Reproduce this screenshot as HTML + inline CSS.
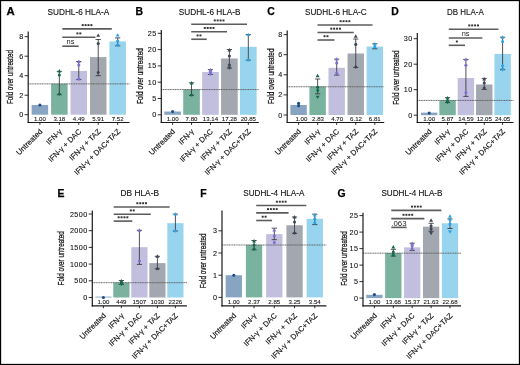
<!DOCTYPE html>
<html><head><meta charset="utf-8"><style>
html,body{margin:0;padding:0;background:#fff;width:520px;height:365px;overflow:hidden;}
</style></head><body>
<svg width="520" height="365" viewBox="0 0 520 365" style="display:block;will-change:transform"><style>
text{font-family:"Liberation Sans",sans-serif;fill:#111}
.lt{font-weight:bold;font-size:10.4px;fill:#000;stroke:#000;stroke-width:.25px}
.ti{font-size:8.2px;stroke:#111;stroke-width:.12px}
.tk{font-size:7.2px;text-anchor:end;stroke:#111;stroke-width:.1px;letter-spacing:.45px}
.vl{font-size:6.1px;text-anchor:middle;stroke:#111;stroke-width:.08px}
.xl{font-size:7.6px;text-anchor:end;stroke:#111;stroke-width:.15px}
.yl{font-size:8.4px;text-anchor:middle;stroke:#111;stroke-width:.25px}
.sg{font-size:7.6px;text-anchor:middle;fill:#222;stroke:#222;stroke-width:.35px}
.ns{font-size:7.4px;text-anchor:middle;fill:#222}
.p6{font-size:7.8px;fill:#222}
.g{fill:#444;stroke:none}
.ax{stroke:#1a1a1a;stroke-width:1.2px}
.tm{stroke:#1a1a1a;stroke-width:.9px}
.br{stroke:#5c5c5c;stroke-width:1.6px}
.eb{stroke:#3c3c44;stroke-width:.9px}
.dl{stroke:#5a5a5a;stroke-width:.9px;stroke-dasharray:1.2,.5}
</style><rect x="0" y="0" width="520" height="365" fill="#fff"/><g><text class="lt" x="6.6" y="14.7" textLength="8.2" lengthAdjust="spacingAndGlyphs">A</text><text class="ti" x="47.5" y="15.0" textLength="61.8" lengthAdjust="spacingAndGlyphs">SUDHL-6 HLA-A</text><rect x="31.65" y="104.95" width="16.5" height="9.75" fill="#87a5c2"/><rect x="51.09" y="83.69" width="16.5" height="31.01" fill="#7ab2a0"/><rect x="70.53" y="70.92" width="16.5" height="43.78" fill="#c1bede"/><rect x="89.97" y="57.08" width="16.5" height="57.62" fill="#a3a8b0"/><rect x="109.41" y="41.38" width="16.5" height="73.32" fill="#98d4ee"/><line class="dl" x1="28.2" y1="83.89" x2="129.5" y2="83.89"/><path class="eb" fill="none" d="M59.34 71.4V94.7M56.74 71.4H61.94M56.74 94.7H61.94"/><path class="eb" fill="none" d="M78.78 61.5V79.6M76.18 61.5H81.38M76.18 79.6H81.38"/><path class="eb" fill="none" d="M98.22 39.5V75.7M95.62 39.5H100.82M95.62 75.7H100.82"/><path class="eb" fill="none" d="M117.66 37.9V45.8M115.06 37.9H120.26M115.06 45.8H120.26"/><circle cx="39.9" cy="105" r="1.55" fill="#1c4b88"/><path d="M59.34 69.06L61.28 72.45L57.4 72.45Z" fill="#14694b"/><circle cx="59.34" cy="75" r="1.55" fill="#14694b"/><path d="M59.34 91.98L61.15 94L59.34 96.02L57.53 94Z" fill="#14694b"/><path d="M78.78 59.56L80.72 62.95L76.84 62.95Z" fill="#7b6fd0"/><circle cx="78.78" cy="65" r="1.55" fill="#7b6fd0"/><path d="M78.78 76.98L80.59 79L78.78 81.02L76.97 79Z" fill="#7b6fd0"/><path d="M98.22 33.46L100.16 36.85L96.28 36.85Z" fill="#3d4654"/><circle cx="98.22" cy="43.6" r="1.55" fill="#3d4654"/><path d="M98.22 70.39L100.03 72.4L98.22 74.42L96.41 72.4Z" fill="#3d4654"/><path d="M117.66 33.16L119.6 36.55L115.72 36.55Z" fill="#29a3e6"/><circle cx="117.66" cy="41" r="1.55" fill="#29a3e6"/><path d="M117.66 42.98L119.47 45L117.66 47.02L115.85 45Z" fill="#29a3e6"/><line class="ax" x1="28.2" y1="31.6" x2="28.2" y2="123.1"/><line class="tm" x1="24.6" y1="114.7" x2="28.2" y2="114.7"/><text class="tk" x="23.6" y="117.2">0</text><line class="tm" x1="24.6" y1="95.2" x2="28.2" y2="95.2"/><text class="tk" x="23.6" y="97.7">2</text><line class="tm" x1="24.6" y1="75.7" x2="28.2" y2="75.7"/><text class="tk" x="23.6" y="78.2">4</text><line class="tm" x1="24.6" y1="56.2" x2="28.2" y2="56.2"/><text class="tk" x="23.6" y="58.7">6</text><line class="tm" x1="24.6" y1="36.7" x2="28.2" y2="36.7"/><text class="tk" x="23.6" y="39.2">8</text><line class="ax" x1="27.6" y1="122.5" x2="129.5" y2="122.5"/><line class="tm" x1="39.9" y1="122.5" x2="39.9" y2="124.9"/><text class="vl" x="39.9" y="120.5">1.00</text><text class="xl" transform="translate(42.9,132) rotate(-45)">Untreated</text><line class="tm" x1="59.34" y1="122.5" x2="59.34" y2="124.9"/><text class="vl" x="59.34" y="120.5">3.18</text><text class="xl" transform="translate(62.34,132) rotate(-45)">IFN-<tspan fill="#333">γ</tspan></text><line class="tm" x1="78.78" y1="122.5" x2="78.78" y2="124.9"/><text class="vl" x="78.78" y="120.5">4.49</text><text class="xl" transform="translate(81.78,132) rotate(-45)">IFN-<tspan fill="#333">γ</tspan> + DAC</text><line class="tm" x1="98.22" y1="122.5" x2="98.22" y2="124.9"/><text class="vl" x="98.22" y="120.5">5.91</text><text class="xl" transform="translate(101.22,132) rotate(-45)">IFN-<tspan fill="#333">γ</tspan> + TAZ</text><line class="tm" x1="117.66" y1="122.5" x2="117.66" y2="124.9"/><text class="vl" x="117.66" y="120.5">7.52</text><text class="xl" transform="translate(120.66,132) rotate(-45)">IFN-<tspan fill="#333">γ</tspan> + DAC+TAZ</text><text class="yl" transform="translate(13.2,77) rotate(-90)" textLength="53.9" lengthAdjust="spacingAndGlyphs">Fold over untreated</text><line class="br" x1="62.3" y1="28.9" x2="111.8" y2="28.9"/><rect x="81.7" y="24.15" width="2" height="1.9" fill="#333"/><rect x="84.6" y="24.15" width="2" height="1.9" fill="#333"/><rect x="87.5" y="24.15" width="2" height="1.9" fill="#333"/><rect x="90.4" y="24.15" width="2" height="1.9" fill="#333"/><line class="br" x1="62.3" y1="37.2" x2="95.4" y2="37.2"/><rect x="76.4" y="32.45" width="2" height="1.9" fill="#333"/><rect x="79.3" y="32.45" width="2" height="1.9" fill="#333"/><line class="br" x1="62.3" y1="46.2" x2="78.6" y2="46.2"/><text class="ns" x="70.45" y="43.9">ns</text></g><g><text class="lt" x="135.5" y="14.7">B</text><text class="ti" x="178.8" y="15.0" textLength="61.7" lengthAdjust="spacingAndGlyphs">SUDHL-6 HLA-B</text><rect x="164.3" y="111.54" width="16.6" height="3.26" fill="#87a5c2"/><rect x="183.23" y="89.37" width="16.6" height="25.43" fill="#7ab2a0"/><rect x="202.16" y="71.96" width="16.6" height="42.84" fill="#c1bede"/><rect x="221.09" y="58.47" width="16.6" height="56.33" fill="#a3a8b0"/><rect x="240.02" y="46.83" width="16.6" height="67.97" fill="#98d4ee"/><line class="dl" x1="161.3" y1="89.57" x2="258.8" y2="89.57"/><path class="eb" fill="none" d="M191.53 82.8V95.3M188.93 82.8H194.13M188.93 95.3H194.13"/><path class="eb" fill="none" d="M210.46 69.6V74.5M207.86 69.6H213.06M207.86 74.5H213.06"/><path class="eb" fill="none" d="M229.39 49.5V68.1M226.79 49.5H231.99M226.79 68.1H231.99"/><path class="eb" fill="none" d="M248.32 34.6V60.2M245.72 34.6H250.92M245.72 60.2H250.92"/><circle cx="172.6" cy="111.5" r="1.55" fill="#1c4b88"/><path d="M191.53 81.06L193.47 84.45L189.59 84.45Z" fill="#14694b"/><circle cx="191.53" cy="95" r="1.55" fill="#14694b"/><path d="M210.46 68.06L212.4 71.45L208.52 71.45Z" fill="#7b6fd0"/><circle cx="210.46" cy="72" r="1.55" fill="#7b6fd0"/><path d="M210.46 71.98L212.27 74L210.46 76.02L208.65 74Z" fill="#7b6fd0"/><path d="M229.39 48.06L231.33 51.45L227.45 51.45Z" fill="#3d4654"/><circle cx="229.39" cy="56" r="1.55" fill="#3d4654"/><path d="M229.39 62.98L231.2 65L229.39 67.02L227.58 65Z" fill="#3d4654"/><path d="M229.39 69.94L231.33 66.55L227.45 66.55Z" fill="#3d4654"/><path d="M248.32 32.66L250.26 36.05L246.38 36.05Z" fill="#29a3e6"/><circle cx="248.32" cy="60" r="1.55" fill="#29a3e6"/><line class="ax" x1="161.3" y1="30" x2="161.3" y2="123.1"/><line class="tm" x1="157.7" y1="114.8" x2="161.3" y2="114.8"/><text class="tk" x="156.7" y="117.3">0</text><line class="tm" x1="157.7" y1="98.5" x2="161.3" y2="98.5"/><text class="tk" x="156.7" y="101">5</text><line class="tm" x1="157.7" y1="82.2" x2="161.3" y2="82.2"/><text class="tk" x="156.7" y="84.7">10</text><line class="tm" x1="157.7" y1="65.9" x2="161.3" y2="65.9"/><text class="tk" x="156.7" y="68.4">15</text><line class="tm" x1="157.7" y1="49.6" x2="161.3" y2="49.6"/><text class="tk" x="156.7" y="52.1">20</text><line class="tm" x1="157.7" y1="33.3" x2="161.3" y2="33.3"/><text class="tk" x="156.7" y="35.8">25</text><line class="ax" x1="160.7" y1="122.5" x2="258.8" y2="122.5"/><line class="tm" x1="172.6" y1="122.5" x2="172.6" y2="124.9"/><text class="vl" x="172.6" y="120.5">1.00</text><text class="xl" transform="translate(175.6,132) rotate(-45)">Untreated</text><line class="tm" x1="191.53" y1="122.5" x2="191.53" y2="124.9"/><text class="vl" x="191.53" y="120.5">7.80</text><text class="xl" transform="translate(194.53,132) rotate(-45)">IFN-<tspan fill="#333">γ</tspan></text><line class="tm" x1="210.46" y1="122.5" x2="210.46" y2="124.9"/><text class="vl" x="210.46" y="120.5">13.14</text><text class="xl" transform="translate(213.46,132) rotate(-45)">IFN-<tspan fill="#333">γ</tspan> + DAC</text><line class="tm" x1="229.39" y1="122.5" x2="229.39" y2="124.9"/><text class="vl" x="229.39" y="120.5">17.28</text><text class="xl" transform="translate(232.39,132) rotate(-45)">IFN-<tspan fill="#333">γ</tspan> + TAZ</text><line class="tm" x1="248.32" y1="122.5" x2="248.32" y2="124.9"/><text class="vl" x="248.32" y="120.5">20.85</text><text class="xl" transform="translate(251.32,132) rotate(-45)">IFN-<tspan fill="#333">γ</tspan> + DAC+TAZ</text><text class="yl" transform="translate(143,76.05) rotate(-90)" textLength="55.7" lengthAdjust="spacingAndGlyphs">Fold over untreated</text><line class="br" x1="191.25" y1="24.25" x2="247" y2="24.25"/><rect x="213.78" y="19.5" width="2" height="1.9" fill="#333"/><rect x="216.68" y="19.5" width="2" height="1.9" fill="#333"/><rect x="219.58" y="19.5" width="2" height="1.9" fill="#333"/><rect x="222.47" y="19.5" width="2" height="1.9" fill="#333"/><line class="br" x1="191.25" y1="31.75" x2="227" y2="31.75"/><rect x="203.78" y="27" width="2" height="1.9" fill="#333"/><rect x="206.68" y="27" width="2" height="1.9" fill="#333"/><rect x="209.58" y="27" width="2" height="1.9" fill="#333"/><rect x="212.47" y="27" width="2" height="1.9" fill="#333"/><line class="br" x1="191.25" y1="39.25" x2="206.75" y2="39.25"/><rect x="196.55" y="34.5" width="2" height="1.9" fill="#333"/><rect x="199.45" y="34.5" width="2" height="1.9" fill="#333"/></g><g><text class="lt" x="267.3" y="14.7">C</text><text class="ti" x="305" y="15.0" textLength="61.7" lengthAdjust="spacingAndGlyphs">SUDHL-6 HLA-C</text><rect x="290.4" y="104.95" width="16.4" height="10.05" fill="#87a5c2"/><rect x="309.45" y="86.56" width="16.4" height="28.44" fill="#7ab2a0"/><rect x="328.5" y="67.76" width="16.4" height="47.24" fill="#c1bede"/><rect x="347.55" y="53.49" width="16.4" height="61.51" fill="#a3a8b0"/><rect x="366.6" y="46.56" width="16.4" height="68.44" fill="#98d4ee"/><line class="dl" x1="287.2" y1="86.76" x2="384.2" y2="86.76"/><path class="eb" fill="none" d="M317.65 79V93.8M315.05 79H320.25M315.05 93.8H320.25"/><path class="eb" fill="none" d="M336.7 59.1V75.1M334.1 59.1H339.3M334.1 75.1H339.3"/><path class="eb" fill="none" d="M355.75 39V67.5M353.15 39H358.35M353.15 67.5H358.35"/><path class="eb" fill="none" d="M374.8 43.8V48.8M372.2 43.8H377.4M372.2 48.8H377.4"/><circle cx="298.6" cy="103.4" r="1.55" fill="#1c4b88"/><circle cx="298.6" cy="105.8" r="1.55" fill="#1c4b88"/><path d="M317.65 73.86L319.59 77.25L315.71 77.25Z" fill="#14694b"/><circle cx="317.65" cy="87.2" r="1.55" fill="#14694b"/><path d="M317.65 88.48L319.46 90.5L317.65 92.52L315.84 90.5Z" fill="#14694b"/><path d="M317.65 99.04L319.59 95.65L315.71 95.65Z" fill="#14694b"/><path d="M336.7 57.16L338.64 60.55L334.76 60.55Z" fill="#7b6fd0"/><circle cx="336.7" cy="63" r="1.55" fill="#7b6fd0"/><path d="M336.7 70.98L338.51 73L336.7 75.02L334.89 73Z" fill="#7b6fd0"/><path d="M355.75 34.36L357.69 37.75L353.81 37.75Z" fill="#3d4654"/><circle cx="355.75" cy="44.4" r="1.55" fill="#3d4654"/><path d="M355.75 64.98L357.56 67L355.75 69.02L353.94 67Z" fill="#3d4654"/><path d="M374.8 42.06L376.74 45.45L372.86 45.45Z" fill="#29a3e6"/><circle cx="374.8" cy="47" r="1.55" fill="#29a3e6"/><line class="ax" x1="287.2" y1="30.5" x2="287.2" y2="123.1"/><line class="tm" x1="283.6" y1="115" x2="287.2" y2="115"/><text class="tk" x="282.6" y="117.5">0</text><line class="tm" x1="283.6" y1="94.9" x2="287.2" y2="94.9"/><text class="tk" x="282.6" y="97.4">2</text><line class="tm" x1="283.6" y1="74.8" x2="287.2" y2="74.8"/><text class="tk" x="282.6" y="77.3">4</text><line class="tm" x1="283.6" y1="54.7" x2="287.2" y2="54.7"/><text class="tk" x="282.6" y="57.2">6</text><line class="tm" x1="283.6" y1="34.6" x2="287.2" y2="34.6"/><text class="tk" x="282.6" y="37.1">8</text><line class="ax" x1="286.6" y1="122.5" x2="384.2" y2="122.5"/><line class="tm" x1="298.6" y1="122.5" x2="298.6" y2="124.9"/><text class="vl" x="301.4" y="120.5">1.00</text><text class="xl" transform="translate(301.6,132) rotate(-45)">Untreated</text><line class="tm" x1="317.65" y1="122.5" x2="317.65" y2="124.9"/><text class="vl" x="318.05" y="120.5">2.83</text><text class="xl" transform="translate(320.65,132) rotate(-45)">IFN-<tspan fill="#333">γ</tspan></text><line class="tm" x1="336.7" y1="122.5" x2="336.7" y2="124.9"/><text class="vl" x="337.2" y="120.5">4.70</text><text class="xl" transform="translate(339.7,132) rotate(-45)">IFN-<tspan fill="#333">γ</tspan> + DAC</text><line class="tm" x1="355.75" y1="122.5" x2="355.75" y2="124.9"/><text class="vl" x="356.05" y="120.5">6.12</text><text class="xl" transform="translate(358.75,132) rotate(-45)">IFN-<tspan fill="#333">γ</tspan> + TAZ</text><line class="tm" x1="374.8" y1="122.5" x2="374.8" y2="124.9"/><text class="vl" x="374.8" y="120.5">6.81</text><text class="xl" transform="translate(377.8,132) rotate(-45)">IFN-<tspan fill="#333">γ</tspan> + DAC+TAZ</text><text class="yl" transform="translate(274.2,76.3) rotate(-90)" textLength="55.5" lengthAdjust="spacingAndGlyphs">Fold over untreated</text><line class="br" x1="317.5" y1="25" x2="372.5" y2="25"/><rect x="339.65" y="20.25" width="2" height="1.9" fill="#333"/><rect x="342.55" y="20.25" width="2" height="1.9" fill="#333"/><rect x="345.45" y="20.25" width="2" height="1.9" fill="#333"/><rect x="348.35" y="20.25" width="2" height="1.9" fill="#333"/><line class="br" x1="317.5" y1="32.5" x2="353.75" y2="32.5"/><rect x="330.27" y="27.75" width="2" height="1.9" fill="#333"/><rect x="333.17" y="27.75" width="2" height="1.9" fill="#333"/><rect x="336.07" y="27.75" width="2" height="1.9" fill="#333"/><rect x="338.97" y="27.75" width="2" height="1.9" fill="#333"/><line class="br" x1="317.5" y1="40" x2="334.5" y2="40"/><rect x="323.55" y="35.25" width="2" height="1.9" fill="#333"/><rect x="326.45" y="35.25" width="2" height="1.9" fill="#333"/></g><g><text class="lt" x="391.3" y="14.7">D</text><text class="ti" x="447" y="15.0" textLength="36.7" lengthAdjust="spacingAndGlyphs">DB HLA-A</text><rect x="421" y="112.65" width="16.4" height="2.55" fill="#87a5c2"/><rect x="439.35" y="100.23" width="16.4" height="14.97" fill="#7ab2a0"/><rect x="457.7" y="78" width="16.4" height="37.2" fill="#c1bede"/><rect x="476.05" y="84.47" width="16.4" height="30.73" fill="#a3a8b0"/><rect x="494.4" y="53.87" width="16.4" height="61.33" fill="#98d4ee"/><line class="dl" x1="417.3" y1="100.43" x2="513.5" y2="100.43"/><path class="eb" fill="none" d="M447.55 97.7V102.6M444.95 97.7H450.15M444.95 102.6H450.15"/><path class="eb" fill="none" d="M465.9 59.4V96.4M463.3 59.4H468.5M463.3 96.4H468.5"/><path class="eb" fill="none" d="M484.25 78.4V89.4M481.65 78.4H486.85M481.65 89.4H486.85"/><path class="eb" fill="none" d="M502.6 37.2V69.7M500 37.2H505.2M500 69.7H505.2"/><circle cx="429.2" cy="113" r="1.55" fill="#1c4b88"/><path d="M447.55 96.06L449.49 99.45L445.61 99.45Z" fill="#14694b"/><circle cx="447.55" cy="101" r="1.55" fill="#14694b"/><path d="M447.55 99.98L449.36 102L447.55 104.02L445.74 102Z" fill="#14694b"/><path d="M465.9 57.46L467.84 60.85L463.96 60.85Z" fill="#7b6fd0"/><circle cx="465.9" cy="65.3" r="1.55" fill="#7b6fd0"/><path d="M465.9 90.69L467.71 92.7L465.9 94.72L464.09 92.7Z" fill="#7b6fd0"/><path d="M484.25 77.06L486.19 80.45L482.31 80.45Z" fill="#3d4654"/><circle cx="484.25" cy="83" r="1.55" fill="#3d4654"/><path d="M484.25 85.98L486.06 88L484.25 90.02L482.44 88Z" fill="#3d4654"/><path d="M502.6 35.26L504.54 38.65L500.66 38.65Z" fill="#29a3e6"/><circle cx="502.6" cy="41.6" r="1.55" fill="#29a3e6"/><path d="M502.6 63.69L504.41 65.7L502.6 67.72L500.79 65.7Z" fill="#29a3e6"/><path d="M502.6 71.64L504.54 68.25L500.66 68.25Z" fill="#29a3e6"/><line class="ax" x1="417.3" y1="33" x2="417.3" y2="123.1"/><line class="tm" x1="413.7" y1="115.2" x2="417.3" y2="115.2"/><text class="tk" x="412.7" y="117.7">0</text><line class="tm" x1="413.7" y1="89.7" x2="417.3" y2="89.7"/><text class="tk" x="412.7" y="92.2">10</text><line class="tm" x1="413.7" y1="64.2" x2="417.3" y2="64.2"/><text class="tk" x="412.7" y="66.7">20</text><line class="tm" x1="413.7" y1="38.7" x2="417.3" y2="38.7"/><text class="tk" x="412.7" y="41.2">30</text><line class="ax" x1="416.7" y1="122.5" x2="513.5" y2="122.5"/><line class="tm" x1="429.2" y1="122.5" x2="429.2" y2="124.9"/><text class="vl" x="429.2" y="120.5">1.00</text><text class="xl" transform="translate(432.2,132) rotate(-45)">Untreated</text><line class="tm" x1="447.55" y1="122.5" x2="447.55" y2="124.9"/><text class="vl" x="447.55" y="120.5">5.87</text><text class="xl" transform="translate(450.55,132) rotate(-45)">IFN-<tspan fill="#333">γ</tspan></text><line class="tm" x1="465.9" y1="122.5" x2="465.9" y2="124.9"/><text class="vl" x="465.9" y="120.5">14.59</text><text class="xl" transform="translate(468.9,132) rotate(-45)">IFN-<tspan fill="#333">γ</tspan> + DAC</text><line class="tm" x1="484.25" y1="122.5" x2="484.25" y2="124.9"/><text class="vl" x="484.25" y="120.5">12.05</text><text class="xl" transform="translate(487.25,132) rotate(-45)">IFN-<tspan fill="#333">γ</tspan> + TAZ</text><line class="tm" x1="502.6" y1="122.5" x2="502.6" y2="124.9"/><text class="vl" x="502.6" y="120.5">24.05</text><text class="xl" transform="translate(505.6,132) rotate(-45)">IFN-<tspan fill="#333">γ</tspan> + DAC+TAZ</text><text class="yl" transform="translate(398.5,77.6) rotate(-90)" textLength="54.3" lengthAdjust="spacingAndGlyphs">Fold over untreated</text><line class="br" x1="448.75" y1="29.2" x2="498.5" y2="29.2"/><rect x="468.27" y="24.45" width="2" height="1.9" fill="#333"/><rect x="471.17" y="24.45" width="2" height="1.9" fill="#333"/><rect x="474.07" y="24.45" width="2" height="1.9" fill="#333"/><rect x="476.97" y="24.45" width="2" height="1.9" fill="#333"/><line class="br" x1="448.75" y1="38" x2="482.4" y2="38"/><text class="ns" x="465.57" y="35.7">ns</text><line class="br" x1="448.75" y1="45.3" x2="465" y2="45.3"/><rect x="455.88" y="40.55" width="2" height="1.9" fill="#333"/></g><g><text class="lt" x="57.5" y="197.2">E</text><text class="ti" x="120.5" y="196.3" textLength="38.5" lengthAdjust="spacingAndGlyphs">DB HLA-B</text><rect x="95.3" y="296.6" width="16.2" height="0.9" fill="#87a5c2"/><rect x="113.3" y="282.5" width="16.2" height="15" fill="#7ab2a0"/><rect x="131.3" y="247.17" width="16.2" height="50.33" fill="#c1bede"/><rect x="149.3" y="263.1" width="16.2" height="34.4" fill="#a3a8b0"/><rect x="167.3" y="223.15" width="16.2" height="74.35" fill="#98d4ee"/><line class="dl" x1="92.3" y1="282.7" x2="186.9" y2="282.7"/><path class="eb" fill="none" d="M121.4 280.5V284.4M118.8 280.5H124M118.8 284.4H124"/><path class="eb" fill="none" d="M139.4 230.3V264.4M136.8 230.3H142M136.8 264.4H142"/><path class="eb" fill="none" d="M157.4 256.3V268.8M154.8 256.3H160M154.8 268.8H160"/><path class="eb" fill="none" d="M175.4 214.1V231M172.8 214.1H178M172.8 231H178"/><circle cx="103.4" cy="297.5" r="1.55" fill="#1c4b88"/><path d="M121.4 279.06L123.34 282.45L119.46 282.45Z" fill="#14694b"/><circle cx="121.4" cy="283" r="1.55" fill="#14694b"/><path d="M121.4 281.99L123.21 284L121.4 286.01L119.59 284Z" fill="#14694b"/><path d="M139.4 228.36L141.34 231.75L137.46 231.75Z" fill="#7b6fd0"/><circle cx="139.4" cy="261" r="1.55" fill="#7b6fd0"/><path d="M157.4 254.36L159.34 257.75L155.46 257.75Z" fill="#3d4654"/><circle cx="157.4" cy="268.8" r="1.55" fill="#3d4654"/><path d="M175.4 212.16L177.34 215.55L173.46 215.55Z" fill="#29a3e6"/><circle cx="175.4" cy="231" r="1.55" fill="#29a3e6"/><line class="ax" x1="92.3" y1="210.4" x2="92.3" y2="306.4"/><line class="tm" x1="88.7" y1="297.5" x2="92.3" y2="297.5"/><text class="tk" x="87.7" y="300">0</text><line class="tm" x1="88.7" y1="280.8" x2="92.3" y2="280.8"/><text class="tk" x="87.7" y="283.3">500</text><line class="tm" x1="88.7" y1="264.1" x2="92.3" y2="264.1"/><text class="tk" x="87.7" y="266.6">1000</text><line class="tm" x1="88.7" y1="247.4" x2="92.3" y2="247.4"/><text class="tk" x="87.7" y="249.9">1500</text><line class="tm" x1="88.7" y1="230.7" x2="92.3" y2="230.7"/><text class="tk" x="87.7" y="233.2">2000</text><line class="tm" x1="88.7" y1="214" x2="92.3" y2="214"/><text class="tk" x="87.7" y="216.5">2500</text><line class="ax" x1="91.7" y1="305.8" x2="186.9" y2="305.8"/><line class="tm" x1="103.4" y1="305.8" x2="103.4" y2="308.2"/><text class="vl" x="103.4" y="303.8">1.00</text><text class="xl" transform="translate(106.4,316.1) rotate(-45)">Untreated</text><line class="tm" x1="121.4" y1="305.8" x2="121.4" y2="308.2"/><text class="vl" x="121.4" y="303.8">449</text><text class="xl" transform="translate(124.4,316.1) rotate(-45)">IFN-<tspan fill="#333">γ</tspan></text><line class="tm" x1="139.4" y1="305.8" x2="139.4" y2="308.2"/><text class="vl" x="139.4" y="303.8">1507</text><text class="xl" transform="translate(142.4,316.1) rotate(-45)">IFN-<tspan fill="#333">γ</tspan> + DAC</text><line class="tm" x1="157.4" y1="305.8" x2="157.4" y2="308.2"/><text class="vl" x="157.4" y="303.8">1030</text><text class="xl" transform="translate(160.4,316.1) rotate(-45)">IFN-<tspan fill="#333">γ</tspan> + TAZ</text><line class="tm" x1="175.4" y1="305.8" x2="175.4" y2="308.2"/><text class="vl" x="175.4" y="303.8">2226</text><text class="xl" transform="translate(178.4,316.1) rotate(-45)">IFN-<tspan fill="#333">γ</tspan> + DAC+TAZ</text><text class="yl" transform="translate(63.7,258.3) rotate(-90)" textLength="54.2" lengthAdjust="spacingAndGlyphs">Fold over untreated</text><line class="br" x1="113.7" y1="207" x2="169.7" y2="207"/><rect x="136.35" y="202.25" width="2" height="1.9" fill="#333"/><rect x="139.25" y="202.25" width="2" height="1.9" fill="#333"/><rect x="142.15" y="202.25" width="2" height="1.9" fill="#333"/><rect x="145.05" y="202.25" width="2" height="1.9" fill="#333"/><line class="br" x1="113.7" y1="214.2" x2="150.8" y2="214.2"/><rect x="129.8" y="209.45" width="2" height="1.9" fill="#333"/><rect x="132.7" y="209.45" width="2" height="1.9" fill="#333"/><line class="br" x1="113.7" y1="221.1" x2="132.3" y2="221.1"/><rect x="117.65" y="216.35" width="2" height="1.9" fill="#333"/><rect x="120.55" y="216.35" width="2" height="1.9" fill="#333"/><rect x="123.45" y="216.35" width="2" height="1.9" fill="#333"/><rect x="126.35" y="216.35" width="2" height="1.9" fill="#333"/></g><g><text class="lt" x="200.2" y="197.2">F</text><text class="ti" x="243.3" y="196.3" textLength="61.1" lengthAdjust="spacingAndGlyphs">SUDHL-4 HLA-A</text><rect x="225.65" y="275.2" width="16.3" height="22.2" fill="#87a5c2"/><rect x="245.9" y="244.79" width="16.3" height="52.61" fill="#7ab2a0"/><rect x="266.15" y="234.13" width="16.3" height="63.27" fill="#c1bede"/><rect x="286.4" y="225.25" width="16.3" height="72.15" fill="#a3a8b0"/><rect x="306.65" y="218.81" width="16.3" height="78.59" fill="#98d4ee"/><line class="dl" x1="222" y1="244.99" x2="326.4" y2="244.99"/><path class="eb" fill="none" d="M254.05 240.5V249.8M251.45 240.5H256.65M251.45 249.8H256.65"/><path class="eb" fill="none" d="M274.3 228.2V239.7M271.7 228.2H276.9M271.7 239.7H276.9"/><path class="eb" fill="none" d="M294.55 217V233.4M291.95 217H297.15M291.95 233.4H297.15"/><path class="eb" fill="none" d="M314.8 214.2V224.6M312.2 214.2H317.4M312.2 224.6H317.4"/><circle cx="233.8" cy="275.3" r="1.55" fill="#1c4b88"/><path d="M254.05 239.06L255.99 242.45L252.11 242.45Z" fill="#14694b"/><circle cx="254.05" cy="245" r="1.55" fill="#14694b"/><path d="M254.05 246.99L255.86 249L254.05 251.01L252.24 249Z" fill="#14694b"/><path d="M274.3 228.06L276.24 231.45L272.36 231.45Z" fill="#7b6fd0"/><circle cx="274.3" cy="236" r="1.55" fill="#7b6fd0"/><path d="M274.3 240.39L276.11 242.4L274.3 244.41L272.49 242.4Z" fill="#7b6fd0"/><path d="M294.55 215.06L296.49 218.45L292.61 218.45Z" fill="#3d4654"/><circle cx="294.55" cy="222" r="1.55" fill="#3d4654"/><path d="M294.55 230.99L296.36 233L294.55 235.01L292.74 233Z" fill="#3d4654"/><path d="M314.8 213.06L316.74 216.45L312.86 216.45Z" fill="#29a3e6"/><circle cx="314.8" cy="219" r="1.55" fill="#29a3e6"/><path d="M314.8 220.99L316.61 223L314.8 225.01L312.99 223Z" fill="#29a3e6"/><line class="ax" x1="222" y1="210.4" x2="222" y2="306.4"/><line class="tm" x1="218.4" y1="297.4" x2="222" y2="297.4"/><text class="tk" x="217.4" y="299.9">0</text><line class="tm" x1="218.4" y1="275.2" x2="222" y2="275.2"/><text class="tk" x="217.4" y="277.7">1</text><line class="tm" x1="218.4" y1="253" x2="222" y2="253"/><text class="tk" x="217.4" y="255.5">2</text><line class="tm" x1="218.4" y1="230.8" x2="222" y2="230.8"/><text class="tk" x="217.4" y="233.3">3</text><line class="ax" x1="221.4" y1="305.8" x2="326.4" y2="305.8"/><line class="tm" x1="233.8" y1="305.8" x2="233.8" y2="308.2"/><text class="vl" x="233.8" y="303.8">1.00</text><text class="xl" transform="translate(236.8,316.1) rotate(-45)">Untreated</text><line class="tm" x1="254.05" y1="305.8" x2="254.05" y2="308.2"/><text class="vl" x="254.05" y="303.8">2.37</text><text class="xl" transform="translate(257.05,316.1) rotate(-45)">IFN-<tspan fill="#333">γ</tspan></text><line class="tm" x1="274.3" y1="305.8" x2="274.3" y2="308.2"/><text class="vl" x="274.3" y="303.8">2.85</text><text class="xl" transform="translate(277.3,316.1) rotate(-45)">IFN-<tspan fill="#333">γ</tspan> + DAC</text><line class="tm" x1="294.55" y1="305.8" x2="294.55" y2="308.2"/><text class="vl" x="294.55" y="303.8">3.25</text><text class="xl" transform="translate(297.55,316.1) rotate(-45)">IFN-<tspan fill="#333">γ</tspan> + TAZ</text><line class="tm" x1="314.8" y1="305.8" x2="314.8" y2="308.2"/><text class="vl" x="314.8" y="303.8">3.54</text><text class="xl" transform="translate(317.8,316.1) rotate(-45)">IFN-<tspan fill="#333">γ</tspan> + DAC+TAZ</text><text class="yl" transform="translate(206,260.9) rotate(-90)" textLength="54.8" lengthAdjust="spacingAndGlyphs">Fold over untreated</text><line class="br" x1="256.2" y1="205.5" x2="306.3" y2="205.5"/><rect x="275.9" y="200.75" width="2" height="1.9" fill="#333"/><rect x="278.8" y="200.75" width="2" height="1.9" fill="#333"/><rect x="281.7" y="200.75" width="2" height="1.9" fill="#333"/><rect x="284.6" y="200.75" width="2" height="1.9" fill="#333"/><line class="br" x1="256.2" y1="212.9" x2="288.5" y2="212.9"/><rect x="267" y="208.15" width="2" height="1.9" fill="#333"/><rect x="269.9" y="208.15" width="2" height="1.9" fill="#333"/><rect x="272.8" y="208.15" width="2" height="1.9" fill="#333"/><rect x="275.7" y="208.15" width="2" height="1.9" fill="#333"/><line class="br" x1="256.2" y1="220.5" x2="272.1" y2="220.5"/><rect x="261.7" y="215.75" width="2" height="1.9" fill="#333"/><rect x="264.6" y="215.75" width="2" height="1.9" fill="#333"/></g><g><text class="lt" x="337.5" y="197.2">G</text><text class="ti" x="381.4" y="196.3" textLength="61.1" lengthAdjust="spacingAndGlyphs">SUDHL-4 HLA-B</text><rect x="366.25" y="294.8" width="16.3" height="3.3" fill="#87a5c2"/><rect x="385.15" y="252.96" width="16.3" height="45.14" fill="#7ab2a0"/><rect x="404.05" y="247.38" width="16.3" height="50.72" fill="#c1bede"/><rect x="422.95" y="226.72" width="16.3" height="71.38" fill="#a3a8b0"/><rect x="441.85" y="223.26" width="16.3" height="74.84" fill="#98d4ee"/><line class="dl" x1="363" y1="253.16" x2="461" y2="253.16"/><path class="eb" fill="none" d="M393.3 249.3V256.1M390.7 249.3H395.9M390.7 256.1H395.9"/><path class="eb" fill="none" d="M412.2 243.2V250.6M409.6 243.2H414.8M409.6 250.6H414.8"/><path class="eb" fill="none" d="M431.1 223.3V231.3M428.5 223.3H433.7M428.5 231.3H433.7"/><path class="eb" fill="none" d="M450 218.9V228.5M447.4 218.9H452.6M447.4 228.5H452.6"/><circle cx="374.4" cy="294.6" r="1.55" fill="#1c4b88"/><path d="M393.3 245.06L395.24 248.45L391.36 248.45Z" fill="#14694b"/><circle cx="393.3" cy="252" r="1.55" fill="#14694b"/><path d="M393.3 252.99L395.11 255L393.3 257.01L391.49 255Z" fill="#14694b"/><path d="M412.2 241.56L414.14 244.95L410.26 244.95Z" fill="#7b6fd0"/><circle cx="412.2" cy="246" r="1.55" fill="#7b6fd0"/><path d="M412.2 246.99L414.01 249L412.2 251.01L410.39 249Z" fill="#7b6fd0"/><path d="M431.1 218.36L433.04 221.75L429.16 221.75Z" fill="#3d4654"/><circle cx="431.1" cy="226" r="1.55" fill="#3d4654"/><path d="M431.1 226.99L432.91 229L431.1 231.01L429.29 229Z" fill="#3d4654"/><path d="M431.1 235.24L433.04 231.85L429.16 231.85Z" fill="#3d4654"/><path d="M450 214.26L451.94 217.65L448.06 217.65Z" fill="#29a3e6"/><circle cx="450" cy="220" r="1.55" fill="#29a3e6"/><path d="M450 221.99L451.81 224L450 226.01L448.19 224Z" fill="#29a3e6"/><path d="M450 233.64L451.94 230.25L448.06 230.25Z" fill="#29a3e6"/><line class="ax" x1="363" y1="212.8" x2="363" y2="306.4"/><line class="tm" x1="359.4" y1="298.1" x2="363" y2="298.1"/><text class="tk" x="358.4" y="300.6">0</text><line class="tm" x1="359.4" y1="281.6" x2="363" y2="281.6"/><text class="tk" x="358.4" y="284.1">5</text><line class="tm" x1="359.4" y1="265.1" x2="363" y2="265.1"/><text class="tk" x="358.4" y="267.6">10</text><line class="tm" x1="359.4" y1="248.6" x2="363" y2="248.6"/><text class="tk" x="358.4" y="251.1">15</text><line class="tm" x1="359.4" y1="232.1" x2="363" y2="232.1"/><text class="tk" x="358.4" y="234.6">20</text><line class="tm" x1="359.4" y1="215.6" x2="363" y2="215.6"/><text class="tk" x="358.4" y="218.1">25</text><line class="ax" x1="362.4" y1="305.8" x2="461" y2="305.8"/><line class="tm" x1="374.4" y1="305.8" x2="374.4" y2="308.2"/><text class="vl" x="374.4" y="303.8">1.00</text><text class="xl" transform="translate(377.4,316.1) rotate(-45)">Untreated</text><line class="tm" x1="393.3" y1="305.8" x2="393.3" y2="308.2"/><text class="vl" x="393.3" y="303.8">13.68</text><text class="xl" transform="translate(396.3,316.1) rotate(-45)">IFN-<tspan fill="#333">γ</tspan></text><line class="tm" x1="412.2" y1="305.8" x2="412.2" y2="308.2"/><text class="vl" x="412.2" y="303.8">15.37</text><text class="xl" transform="translate(415.2,316.1) rotate(-45)">IFN-<tspan fill="#333">γ</tspan> + DAC</text><line class="tm" x1="431.1" y1="305.8" x2="431.1" y2="308.2"/><text class="vl" x="431.1" y="303.8">21.63</text><text class="xl" transform="translate(434.1,316.1) rotate(-45)">IFN-<tspan fill="#333">γ</tspan> + TAZ</text><line class="tm" x1="450" y1="305.8" x2="450" y2="308.2"/><text class="vl" x="450" y="303.8">22.68</text><text class="xl" transform="translate(453,316.1) rotate(-45)">IFN-<tspan fill="#333">γ</tspan> + DAC+TAZ</text><text class="yl" transform="translate(347.2,258.6) rotate(-90)" textLength="54.5" lengthAdjust="spacingAndGlyphs">Fold over untreated</text><line class="br" x1="391.3" y1="210.4" x2="441.4" y2="210.4"/><rect x="411" y="205.65" width="2" height="1.9" fill="#333"/><rect x="413.9" y="205.65" width="2" height="1.9" fill="#333"/><rect x="416.8" y="205.65" width="2" height="1.9" fill="#333"/><rect x="419.7" y="205.65" width="2" height="1.9" fill="#333"/><line class="br" x1="391.3" y1="218.6" x2="424.4" y2="218.6"/><rect x="402.5" y="213.85" width="2" height="1.9" fill="#333"/><rect x="405.4" y="213.85" width="2" height="1.9" fill="#333"/><rect x="408.3" y="213.85" width="2" height="1.9" fill="#333"/><rect x="411.2" y="213.85" width="2" height="1.9" fill="#333"/><line class="br" x1="391.3" y1="227.4" x2="406.6" y2="227.4"/><text class="p6" x="391.3" y="225.8">.063</text></g><rect x="0.5" y="0.5" width="519" height="364" fill="none" stroke="#000" stroke-width="1.3"/></svg>
</body></html>
